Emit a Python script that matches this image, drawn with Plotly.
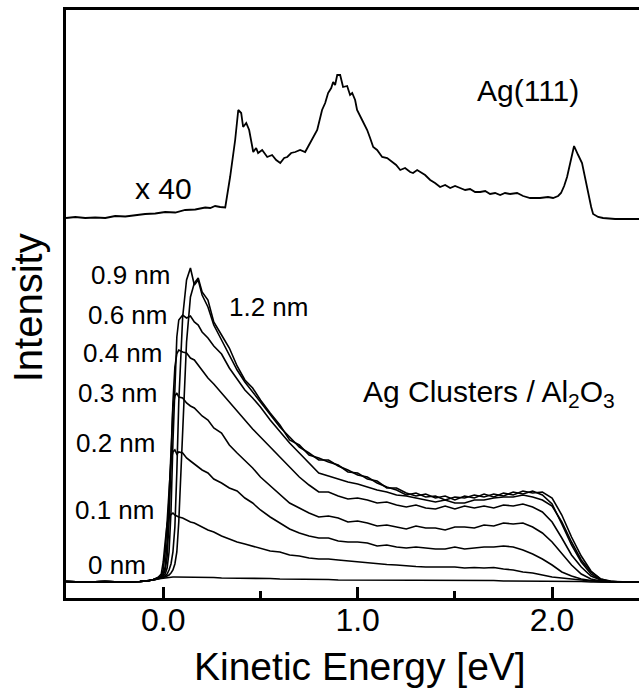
import plotly.graph_objects as go

# ---------------- data ----------------
# Ag(111) reference spectrum (x 40, vertically offset), kinetic energy [eV]
ag111_energy = [-0.50, -0.452, -0.401, -0.350, -0.298, -0.247, -0.195, -0.144, -0.093, -0.041,
                0.010, 0.062, 0.113, 0.165, 0.216, 0.242, 0.267, 0.293, 0.319, 0.344,
                0.370, 0.386, 0.401, 0.411, 0.427, 0.442, 0.463, 0.478, 0.488, 0.509,
                0.535, 0.560, 0.581, 0.602, 0.622, 0.638, 0.658, 0.679, 0.704, 0.730,
                0.751, 0.766, 0.792, 0.817, 0.833, 0.848, 0.864, 0.874, 0.884, 0.895,
                0.910, 0.925, 0.946, 0.961, 0.972, 0.987, 0.997, 1.023, 1.049, 1.064,
                1.080, 1.100, 1.126, 1.152, 1.177, 1.198, 1.219, 1.244, 1.270, 1.285,
                1.306, 1.321, 1.347, 1.373, 1.398, 1.424, 1.450, 1.476, 1.501, 1.527,
                1.553, 1.578, 1.604, 1.630, 1.656, 1.681, 1.707, 1.733, 1.758, 1.784,
                1.820, 1.851, 1.887, 1.938, 1.979, 2.005, 2.031, 2.046, 2.062, 2.077,
                2.093, 2.113, 2.134, 2.154, 2.170, 2.185, 2.201, 2.211, 2.237, 2.262,
                2.324, 2.375, 2.50]
ag111_intensity = [364, 365, 364, 364.5, 364, 366, 365.5, 367, 368, 368.5,
                   370, 369.5, 372, 372.5, 374.5, 374, 376, 375, 374.5, 405,
                   442, 472, 469, 455, 459, 452, 430, 434, 429, 432,
                   425, 427, 422, 419, 424, 425, 429, 430, 432, 430,
                   437, 442, 452, 472, 479, 489, 494, 500, 497, 507,
                   507, 495, 496, 487, 489, 482, 472, 462, 452, 444,
                   435, 432, 425, 424, 420, 417, 412, 414, 410, 409,
                   412, 410, 407, 402, 399, 395, 397, 394, 396, 394,
                   392, 393, 390, 390, 391, 388, 389, 387, 389, 388,
                   389, 386, 384, 384, 385, 384, 386, 389, 396, 405,
                   419, 436, 427, 419, 404, 389, 375, 368, 365, 364,
                   363, 363, 363]

# Ag clusters / Al2O3 spectra, shared energy grid [eV]
cluster_energy = [-0.50, -0.40, -0.30, -0.20, -0.12, -0.08, -0.05, -0.03, -0.01, 0.00,
                  0.01, 0.02, 0.03, 0.04, 0.05, 0.06, 0.07, 0.08, 0.10, 0.12,
                  0.14, 0.16, 0.18, 0.20, 0.23, 0.26, 0.30, 0.34, 0.38, 0.42,
                  0.46, 0.50, 0.55, 0.60, 0.65, 0.70, 0.75, 0.80, 0.85, 0.90,
                  0.95, 1.00, 1.05, 1.10, 1.15, 1.20, 1.25, 1.30, 1.35, 1.40,
                  1.45, 1.50, 1.55, 1.60, 1.65, 1.70, 1.75, 1.80, 1.85, 1.90,
                  1.95, 2.00, 2.05, 2.10, 2.15, 2.20, 2.25, 2.30, 2.35, 2.40,
                  2.50]

int_0nm = [0.5, 0, 0.5, 0, 0.5, 1, 2, 3, 3.5, 4,
           4.5, 5, 5, 5, 5, 5, 5, 5, 5, 5,
           5, 5, 4.5, 4.5, 4.5, 4.5, 4, 4, 4, 4,
           3.5, 3.5, 3.5, 3, 3, 3, 2.5, 2.5, 2.5, 2,
           2, 2, 2, 2, 2, 1.5, 1.5, 1.5, 1.5, 1.5,
           1.5, 1.5, 1.5, 1.5, 1.5, 1.5, 1, 1, 1, 1,
           1, 0.5, 0.5, 0.5, 0.5, 0, 0, 0, 0, 0,
           0]
int_01nm = [0.5, 0, 0.5, 0, 0.5, 1, 2.5, 4, 8, 20,
            40, 58, 66, 68, 69, 67, 66, 65, 64, 62,
            60, 59, 57, 55, 52, 50, 46, 43, 40, 38,
            36, 34, 31, 30, 27, 26, 24, 23, 23, 22,
            21, 20, 19.5, 18, 17.5, 17, 16, 15.5, 15, 15,
            14.5, 15, 14, 14.5, 14, 14.5, 13, 12, 10, 9,
            7, 5, 4, 3, 1.5, 0.5, 0, 0, 0, 0,
            0]
int_02nm = [0.5, 0, 0.5, 0, 0.5, 1, 2.5, 4, 6, 12,
            30, 60, 95, 122, 130, 132, 128, 130, 129, 124,
            121, 118, 115, 112, 109, 103, 99, 94, 91, 84,
            79, 72, 65, 59, 53, 49, 46, 44, 44, 41,
            40, 40, 39, 36, 37, 35, 34, 35, 34, 33,
            33, 35, 33, 34, 35, 35, 36, 35, 32, 28,
            23, 17, 10, 6, 3, 1.5, 0.5, 0, 0, 0,
            0]
int_03nm = [0.5, 0, 0.5, 0, 0.5, 1, 2.5, 4, 5, 8,
            15, 40, 90, 140, 175, 186, 189, 185, 184, 179,
            176, 174, 170, 166, 162, 154, 149, 137, 129, 122,
            114, 105, 96, 88, 79, 74, 69, 65, 66, 64,
            60, 61, 59, 56, 57, 55, 53, 56, 54, 54,
            52, 55, 55, 54, 57, 56, 59, 58, 59, 55,
            49, 40, 28, 17, 8, 3, 1, 0.5, 0, 0,
            0]
int_04nm = [0.5, 0, 0.5, 0, 0.5, 1, 2.5, 4, 5, 7,
            12, 25, 60, 120, 180, 215, 228, 232, 230, 229,
            224, 222, 217, 212, 204, 198, 189, 180, 170, 162,
            153, 145, 135, 124, 115, 105, 97, 90, 90, 86,
            83, 84, 82, 79, 80, 77, 75, 77, 74, 73,
            76, 73, 76, 74, 76, 74, 77, 76, 78, 75,
            70, 60, 44, 27, 15, 6, 2, 0.5, 0, 0,
            0]
int_06nm = [0.5, 0, 0.5, 0, 0.5, 1, 2.5, 4, 5, 6,
            8, 14, 30, 70, 140, 200, 245, 262, 267, 264,
            266, 260, 257, 250, 244, 236, 228, 214, 203, 192,
            184, 175, 162, 150, 139, 129, 119, 109, 106, 103,
            100, 98, 95, 92, 90, 87, 86, 84, 82, 80,
            82, 79, 79, 82, 82, 84, 85, 85, 87, 85,
            82, 76, 60, 40, 22, 10, 3, 0.5, 0, 0,
            0]
int_09nm = [0.5, 0, 0.5, 0, 0.5, 1, 2, 3, 4, 5,
            6, 8, 12, 18, 30, 55, 110, 180, 265, 302,
            314, 297, 302, 287, 275, 257, 242, 227, 212, 200,
            190, 180, 167, 155, 145, 135, 129, 122, 122, 116,
            112, 107, 105, 99, 95, 92, 87, 89, 85, 86,
            82, 85, 84, 87, 85, 88, 86, 90, 88, 91,
            87, 78, 58, 37, 20, 8, 2, 0.5, 0, 0,
            0]
int_12nm = [0.5, 0, 0.5, 0, 0.5, 1, 2, 3, 4, 4,
            5, 6, 7, 9, 12, 18, 30, 60, 150, 240,
            285, 299, 304, 290, 282, 260, 247, 234, 216, 202,
            194, 182, 169, 157, 142, 137, 127, 124, 120, 117,
            110, 109, 103, 101, 94, 94, 89, 86, 88, 84,
            86, 82, 86, 84, 88, 85, 89, 87, 91, 89,
            90, 84, 67, 45, 26, 11, 3, 1, 0, 0,
            0]

cluster_sizes = ["0 nm", "0.1 nm", "0.2 nm", "0.3 nm", "0.4 nm", "0.6 nm", "0.9 nm", "1.2 nm"]
cluster_series = [int_0nm, int_01nm, int_02nm, int_03nm, int_04nm, int_06nm, int_09nm, int_12nm]

FONT = "Liberation Sans, Arial, Helvetica, sans-serif"

fig = go.Figure()

fig.add_trace(go.Scatter(x=ag111_energy, y=ag111_intensity, mode="lines",
                         line=dict(color="black", width=1.8), name="Ag(111)",
                         showlegend=False))
for name, series in zip(cluster_sizes, cluster_series):
    fig.add_trace(go.Scatter(x=cluster_energy, y=series, mode="lines",
                             line=dict(color="black", width=1.6), name=name,
                             showlegend=False))

annotations = []
# cluster-size labels (right aligned, left of the onset)
size_label_pos = [("0.9 nm", 0.051, 307), ("0.6 nm", 0.036, 267), ("0.4 nm", 0.010, 229),
                  ("0.3 nm", -0.015, 189), ("0.2 nm", -0.026, 139), ("0.1 nm", -0.031, 72),
                  ("0 nm", -0.077, 17)]
for txt, xx, yy in size_label_pos:
    annotations.append(dict(x=xx, y=yy, xref="x", yref="y", text=txt, showarrow=False,
                            xanchor="right", yanchor="middle",
                            font=dict(family=FONT, size=26, color="black")))
annotations.append(dict(x=0.329, y=275, xref="x", yref="y", text="1.2 nm", showarrow=False,
                        xanchor="left", yanchor="middle",
                        font=dict(family=FONT, size=26, color="black")))
annotations.append(dict(x=0.0, y=394, xref="x", yref="y", text="x 40", showarrow=False,
                        xanchor="center", yanchor="middle",
                        font=dict(family=FONT, size=30, color="black")))
annotations.append(dict(x=1.877, y=492, xref="x", yref="y", text="Ag(111)", showarrow=False,
                        xanchor="center", yanchor="middle",
                        font=dict(family=FONT, size=30, color="black")))
annotations.append(dict(x=1.676, y=189, xref="x", yref="y",
                        text="Ag Clusters / Al<sub>2</sub>O<sub>3</sub>", showarrow=False,
                        xanchor="center", yanchor="middle",
                        font=dict(family=FONT, size=30, color="black")))
# axis titles
annotations.append(dict(x=0.513, y=-0.116, xref="paper", yref="paper",
                        text="Kinetic Energy [eV]", showarrow=False,
                        xanchor="center", yanchor="middle",
                        font=dict(family=FONT, size=39, color="black")))
annotations.append(dict(x=-0.066, y=0.493, xref="paper", yref="paper",
                        text="Intensity", showarrow=False, textangle=-90,
                        xanchor="center", yanchor="middle",
                        font=dict(family=FONT, size=40, color="black")))

fig.update_layout(
    width=639, height=688,
    margin=dict(l=66, r=0, t=10, b=90),
    paper_bgcolor="white", plot_bgcolor="white",
    showlegend=False,
    annotations=annotations,
    font=dict(family=FONT, color="black"),
)
fig.update_xaxes(range=[-0.5, 2.447], showgrid=False, zeroline=False,
                 showline=True, linecolor="black", linewidth=3, mirror=True,
                 ticks="inside", ticklen=11, tickwidth=3, tickcolor="black",
                 tick0=0, dtick=1, tickformat=".1f", ticklabelstandoff=-8,
                 tickfont=dict(family=FONT, size=32, color="black"),
                 minor=dict(dtick=0.5, ticks="inside", ticklen=7, tickwidth=3,
                            tickcolor="black", showgrid=False))
fig.update_yaxes(range=[-16, 572], showgrid=False, zeroline=False,
                 showline=True, linecolor="black", linewidth=3, mirror=False,
                 showticklabels=False, ticks="")

fig.write_html("out.html")
